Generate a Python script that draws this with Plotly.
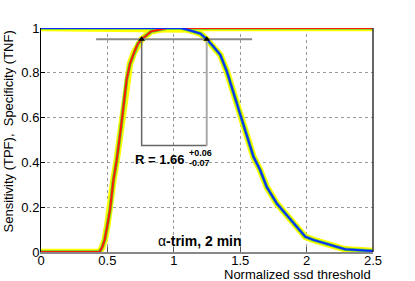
import plotly.graph_objects as go

# ---- data ----
sens_x = [0, 0.44, 0.46, 0.48, 0.50, 0.52, 0.545, 0.57, 0.60, 0.62, 0.645, 0.67,
          0.70, 0.73, 0.758, 0.80, 0.83, 0.87, 0.91, 0.95, 2.5]
sens_y = [0, 0, 0.02, 0.055, 0.12, 0.19, 0.32, 0.41, 0.545, 0.65, 0.77, 0.84,
          0.89, 0.93, 0.95, 0.97, 0.985, 0.99, 0.995, 1.0, 1.0]

spec_x = [0, 1.05, 1.10, 1.15, 1.20, 1.248, 1.30, 1.35, 1.40, 1.45, 1.49, 1.525,
          1.56, 1.60, 1.65, 1.70, 1.775, 1.85, 1.925, 1.99, 2.05, 2.13, 2.20,
          2.29, 2.38, 2.5]
spec_y = [1, 1, 0.993, 0.985, 0.975, 0.95, 0.917, 0.88, 0.805, 0.71, 0.634, 0.56,
          0.50, 0.425, 0.366, 0.29, 0.217, 0.165, 0.113, 0.068, 0.054, 0.039, 0.027,
          0.012, 0.009, 0.004]

target_level = [0.95, 0.95]
target_span_x = [0.415, 1.59]
cross_x = [0.758, 1.248]
box_floor = 0.475

x_ticks = [0, 0.5, 1, 1.5, 2, 2.5]
x_tick_labels = ["0", "0.5", "1", "1.5", "2", "2.5"]
y_ticks = [0, 0.2, 0.4, 0.6, 0.8, 1]
y_tick_labels = ["0", "0.2", "0.4", "0.6", "0.8", "1"]

ratio_text = "R = 1.66"
ratio_plus = "+0.06"
ratio_minus = "-0.07"
label_text = "\u03b1<b>-trim, 2 min</b>"
x_title = "Normalized ssd threshold"
y_title = "Sensitivity (TPF),\u00a0 Specificity (TNF)"

FONT = "Liberation Sans, Arial, Helvetica, sans-serif"
YELLOW = "#ffff00"
GREEN = "#5ccd3c"

fig = go.Figure()


def band(x, y, color, width):
    fig.add_trace(go.Scatter(x=x, y=y, mode="lines", line=dict(color=color, width=width),
                             hoverinfo="skip", showlegend=False))


band(sens_x, sens_y, YELLOW, 6.5)
band(spec_x, spec_y, YELLOW, 6.5)
band(sens_x, sens_y, GREEN, 3.5)
band(spec_x, spec_y, GREEN, 3.5)
band(sens_x, sens_y, "#ff1a00", 2)
band(spec_x, spec_y, "#0a2cff", 2)

# threshold construction lines
fig.add_trace(go.Scatter(x=target_span_x, y=target_level, mode="lines",
                         line=dict(color="#8a8a8a", width=2), hoverinfo="skip", showlegend=False))
fig.add_trace(go.Scatter(x=[cross_x[0], cross_x[0], cross_x[1]],
                         y=[target_level[0], box_floor, box_floor], mode="lines",
                         line=dict(color="#666666", width=1.5), hoverinfo="skip", showlegend=False))
fig.add_trace(go.Scatter(x=[cross_x[1], cross_x[1]], y=[target_level[0], box_floor], mode="lines",
                         line=dict(color="#aaaaaa", width=2), hoverinfo="skip", showlegend=False))
fig.add_trace(go.Scatter(x=cross_x, y=target_level, mode="markers",
                         marker=dict(symbol="triangle-up", size=6, color="black"),
                         hoverinfo="skip", showlegend=False))

fig.add_annotation(x=1.097, y=0.414, xref="x", yref="y", text="<b>" + ratio_text + "</b>",
                   showarrow=False, xanchor="right", yanchor="middle",
                   font=dict(family=FONT, size=13, color="black"))
fig.add_annotation(x=1.097, y=0.442, xref="x", yref="y", text="<b>" + ratio_plus + "</b>",
                   showarrow=False, xanchor="left", yanchor="middle",
                   font=dict(family=FONT, size=9, color="black"))
fig.add_annotation(x=1.097, y=0.397, xref="x", yref="y", text="<b>" + ratio_minus + "</b>",
                   showarrow=False, xanchor="left", yanchor="middle",
                   font=dict(family=FONT, size=9, color="black"))
fig.add_annotation(x=1.2, y=0.05, xref="x", yref="y", text=label_text,
                   showarrow=False, xanchor="center", yanchor="middle",
                   font=dict(family=FONT, size=14, color="black"))
fig.add_annotation(x=1.0, y=-0.099, xref="paper", yref="paper", text=x_title,
                   showarrow=False, xanchor="right", yanchor="middle",
                   font=dict(family=FONT, size=13, color="black"))
fig.add_annotation(x=-0.098, y=1.0, xref="paper", yref="paper", text=y_title,
                   textangle=-90, showarrow=False, xanchor="center", yanchor="top",
                   font=dict(family=FONT, size=13, color="black"))

# right frame edge
fig.add_shape(type="line", xref="paper", yref="paper", x0=1, x1=1, y0=0, y1=1,
              line=dict(color="#333333", width=1.5))

fig.update_xaxes(range=[0, 2.5], tickvals=x_ticks, ticktext=x_tick_labels,
                 showgrid=True, gridcolor="#999999", griddash="dot", gridwidth=1,
                 showline=True, linecolor="#888888", linewidth=2,
                 ticks="inside", ticklen=5, tickcolor="#555555", zeroline=False,
                 layer="below traces", automargin=False, ticklabelstandoff=-5,
                 tickfont=dict(family=FONT, size=13, color="black"))
fig.update_yaxes(range=[0, 1], tickvals=y_ticks, ticktext=y_tick_labels,
                 showgrid=True, gridcolor="#999999", griddash="dot", gridwidth=1,
                 showline=True, linecolor="black", linewidth=1,
                 ticks="inside", ticklen=4, tickcolor="black", zeroline=False,
                 layer="below traces", automargin=False, ticklabelstandoff=-2,
                 tickfont=dict(family=FONT, size=13, color="black"))

fig.update_layout(width=415, height=281, margin=dict(l=41, r=42, t=28, b=29),
                  plot_bgcolor="white", paper_bgcolor="white", showlegend=False)

fig.write_html("out.html", config={"displayModeBar": False},
               post_script="document.body.style.margin='0';document.body.style.overflow='hidden';")
